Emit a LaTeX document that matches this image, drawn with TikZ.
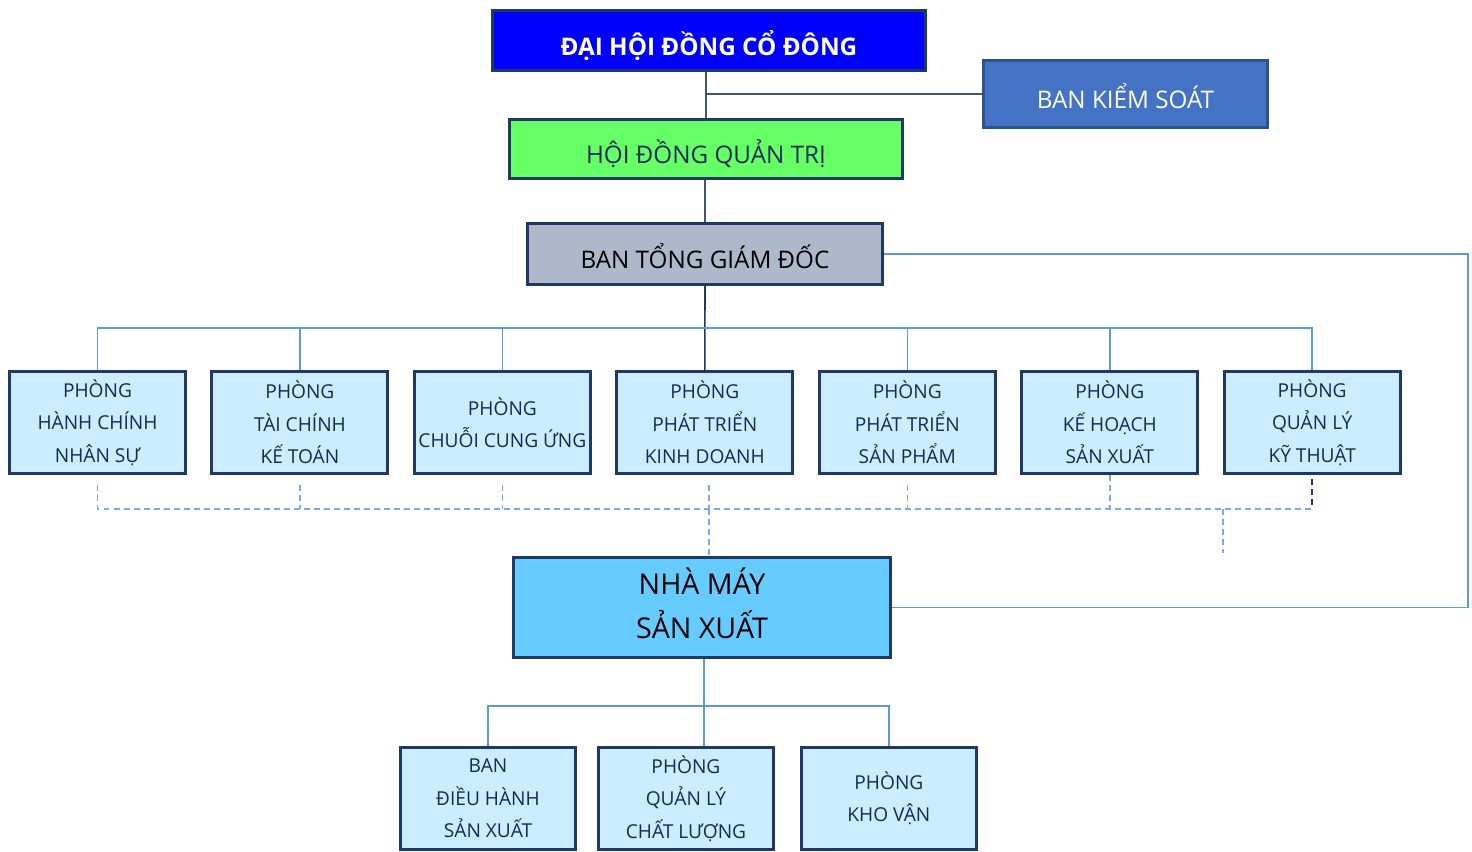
\documentclass[tikz,border=0pt]{standalone}
\usepackage{fontspec}
\setmainfont{Open Sans}
\usetikzlibrary{positioning}

\definecolor{boxline}{HTML}{203864}
\definecolor{dhfill}{HTML}{0000FF}
\definecolor{bksfill}{HTML}{4472C4}
\definecolor{bksline}{HTML}{2F528F}
\definecolor{hdfill}{HTML}{66FF66}
\definecolor{tgdfill}{HTML}{ADB9CA}
\definecolor{nmfill}{HTML}{66CCFF}
\definecolor{deptfill}{HTML}{CCECFF}
\definecolor{depttext}{HTML}{112A5C}
\definecolor{topline}{HTML}{44546A}
\definecolor{busblue}{HTML}{5B9BD5}
\definecolor{dashblue}{HTML}{7DAAE0}

\begin{document}
\begin{tikzpicture}[x=0.02cm,y=-0.02cm,node distance=0.47cm,
    box/.style={draw=boxline,line width=1.7pt,align=center,inner sep=0pt},
    mainbox/.style={box,font=\fontsize{13.8}{16}\selectfont,text height=20pt,text depth=3pt},
    dept/.style={box,fill=deptfill,text=depttext,minimum width=3.52cm,
      minimum height=2.04cm,font=\fontsize{10.9}{18.4}\selectfont},
    link/.style={topline,line width=0.9pt},
    busline/.style={busblue,line width=0.9pt},
    dashline/.style={dashblue,line width=0.9pt,dash pattern=on 3.4pt off 2.3pt}]
    \useasboundingbox (0,0) rectangle (1472,852);

    % top of the chart
    \node[mainbox,fill=dhfill,text=white,font=\bfseries\fontsize{13.8}{16}\selectfont,
      minimum width=8.66cm,minimum height=1.2cm] (dhdcd) at (709,40.5) {ĐẠI HỘI ĐỒNG CỔ ĐÔNG};
    \node[mainbox,fill=bksfill,draw=bksline,text=white,
      minimum width=5.68cm,minimum height=1.34cm] (bks) at (1125.5,94) {BAN KIỂM SOÁT};
    \node[mainbox,fill=hdfill,text=depttext,
      minimum width=7.86cm,minimum height=1.18cm] (hdqt) at (706,149) {HỘI ĐỒNG QUẢN TRỊ};
    \node[mainbox,fill=tgdfill,text=black,
      minimum width=7.1cm,minimum height=1.22cm] (btgd) at (705,254) {BAN TỔNG GIÁM ĐỐC};

    % departments
    \node[dept] (p1) at (97.5,422.5) {PHÒNG\\HÀNH CHÍNH\\NHÂN SỰ};
    \node[dept] (p2) [right=of p1] {PHÒNG\\TÀI CHÍNH\\KẾ TOÁN};
    \node[dept] (p3) [right=of p2] {PHÒNG\\CHUỖI CUNG ỨNG};
    \node[dept] (p4) [right=of p3] {PHÒNG\\PHÁT TRIỂN\\KINH DOANH};
    \node[dept] (p5) [right=of p4] {PHÒNG\\PHÁT TRIỂN\\SẢN PHẨM};
    \node[dept] (p6) [right=of p5] {PHÒNG\\KẾ HOẠCH\\SẢN XUẤT};
    \node[dept] (p7) [right=of p6] {PHÒNG\\QUẢN LÝ\\KỸ THUẬT};

    % factory
    \node[box,fill=nmfill,text=black,font=\fontsize{16.3}{25}\selectfont,text depth=4.5pt,
      minimum width=7.54cm,minimum height=2.0cm] (nm) at (702,607.5) {NHÀ MÁY\\SẢN XUẤT};
    \node[dept,minimum width=3.5cm] (s1) at (488,798.5) {BAN\\ĐIỀU HÀNH\\SẢN XUẤT};
    \node[dept,minimum width=3.5cm] (s2) [right=0.4cm of s1] {PHÒNG\\QUẢN LÝ\\CHẤT LƯỢNG};
    \node[dept,minimum width=3.5cm] (s3) [right=0.5cm of s2] {PHÒNG\\KHO VẬN};

    \coordinate (bus) at (705,328);
    \coordinate (dashbus) at (709,509);
    \coordinate (dashend) at (1223,553);
    \coordinate (rside) at (1468,0);
    \coordinate (sbus) at (704,706);

    \draw[link] (hdqt.north |- dhdcd.south) -- (hdqt.north);
    \draw[link] (hdqt.north |- bks.west) -- (bks.west);
    \draw[link] (btgd.north |- hdqt.south) -- (btgd.north);
    \draw[link,boxline] (btgd.south) -- (p4.north);

    \draw[busline] (p1.north) |- (bus) -| (p7.north);
    \foreach \i in {2,3,5,6}
      \draw[busline] (p\i.north) -- (p\i.north |- bus);
    \draw[busline] (btgd.east) -| (rside |- nm.east) -- (nm.east);

    \draw[dashline] ([yshift=-0.2cm]p1.south) |- (dashbus) -| (p7.south |- dashbus);
    \foreach \i in {2,3,5}
      \draw[dashline] ([yshift=-0.2cm]p\i.south) -- (p\i.south |- dashbus);
    \draw[dashline] ([yshift=-0.2cm]dashbus |- p4.south) -- (dashbus);
    \draw[dashline] (p6.south) -- (p6.south |- dashbus);
    \draw[dashline,boxline] ([yshift=-0.08cm]p7.south) -- (p7.south |- dashbus);
    \draw[dashline] (dashbus) -- (dashbus |- nm.north);
    \draw[dashline] (dashend |- dashbus) -- (dashend);

    \draw[busline] (sbus |- nm.south) -- (sbus);
    \draw[busline] (s1.north) |- (sbus) -| (s3.north);
    \draw[busline] (sbus) -- (sbus |- s2.north);
\end{tikzpicture}
\end{document}
